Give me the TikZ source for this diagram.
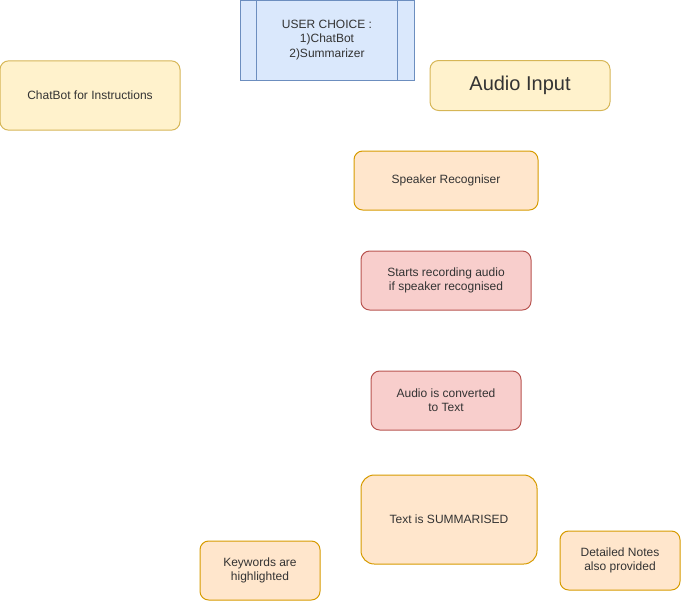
\documentclass[tikz,border=0pt]{standalone}
\usepackage{fontspec}
\setmainfont{Liberation Sans}
\definecolor{yfill}{HTML}{FFF2CC}\definecolor{ydraw}{HTML}{D6B656}
\definecolor{ofill}{HTML}{FFE6CC}\definecolor{odraw}{HTML}{D79B00}
\definecolor{rfill}{HTML}{F8CECC}\definecolor{rdraw}{HTML}{B85450}
\definecolor{bfill}{HTML}{DAE8FC}\definecolor{bdraw}{HTML}{6C8EBF}
\definecolor{txt}{HTML}{333333}
\begin{document}
\begin{tikzpicture}[x=0.75pt,y=-0.75pt,
  box/.style={rounded corners=6.5pt,line width=0.75pt,align=center,inner sep=0pt,text=txt,font=\fontsize{9}{10.5}\selectfont},
  ybox/.style={box,fill=yfill,draw=ydraw},
  obox/.style={box,fill=ofill,draw=odraw},
  rbox/.style={box,fill=rfill,draw=rdraw}]
\useasboundingbox (0,0) rectangle (681,601);
% user choice process box
\node[draw=bdraw,fill=bfill,line width=0.75pt,minimum width=130.5pt,minimum height=60pt,inner sep=0pt,align=center,text=txt,font=\fontsize{9}{10.8}\selectfont] (uc) at (327,40) {USER CHOICE :\\1)ChatBot\\2)Summarizer};
\draw[bdraw,line width=0.75pt] ([xshift=12.75pt]uc.north west) -- ([xshift=12.75pt]uc.south west);
\draw[bdraw,line width=0.75pt] ([xshift=-12.75pt]uc.north east) -- ([xshift=-12.75pt]uc.south east);
\node[ybox,minimum width=135pt,minimum height=52pt] (cb) at (90,95.5) {ChatBot for Instructions};
\node[ybox,minimum width=135pt,minimum height=37.5pt,font=\fontsize{15}{18}\selectfont] (ai) at (520,85.5) {Audio Input};
\node[obox,minimum width=138pt,minimum height=44.25pt] (sr) at (446,180.5) {Speaker Recogniser};
\node[rbox,minimum width=127.5pt,minimum height=44.25pt] (st) at (446,280.5) {Starts recording audio\\if speaker recognised};
\node[rbox,minimum width=112.5pt,minimum height=44.25pt] (ac) at (446,400.5) {Audio is converted\\to Text};
\node[obox,rounded corners=10pt,minimum width=132pt,minimum height=66.75pt] (ts) at (449,519.5) {Text is SUMMARISED};
\node[obox,minimum width=90pt,minimum height=44.25pt] (kw) at (260,570.5) {Keywords are\\highlighted};
\node[obox,minimum width=90pt,minimum height=44.25pt] (dn) at (620,560.5) {Detailed Notes\\also provided};
\end{tikzpicture}
\end{document}
